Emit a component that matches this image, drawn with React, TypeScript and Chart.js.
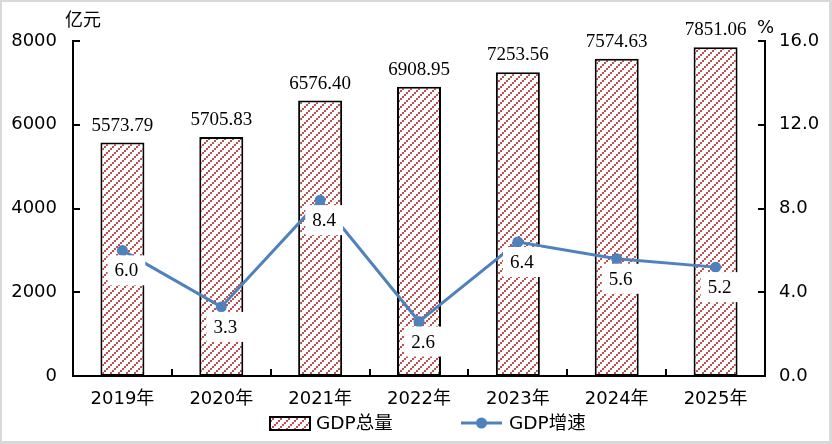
import React, { useEffect, useRef } from "react";
import { Chart, registerables } from "chart.js";

Chart.register(...registerables);

const years = ["2019年", "2020年", "2021年", "2022年", "2023年", "2024年", "2025年"];
const gdpTotal = [5573.79, 5705.83, 6576.4, 6908.95, 7253.56, 7574.63, 7851.06];
const gdpGrowth = [6.0, 3.3, 8.4, 2.6, 6.4, 5.6, 5.2];
const seriesNames = ["GDP总量", "GDP增速"];

const RED = "#C0504D";
const BLUE = "#4F81BD";
const SANS = "'DejaVu Sans', 'Noto Sans CJK SC', sans-serif";
const SERIF = "'Liberation Serif', 'Times New Roman', serif";

// upward diagonal hatch: 2px dots stepping (2,-2), stripes 8px apart
function makeHatch(): CanvasPattern | string {
	const tile = document.createElement("canvas");
	tile.width = 8;
	tile.height = 8;
	const c = tile.getContext("2d");
	if (!c) return RED;
	c.fillStyle = "#fff";
	c.fillRect(0, 0, 8, 8);
	c.fillStyle = RED;
	for (let k = 0; k < 4; k++) {
		c.fillRect(2 * k, 6 - 2 * k, 2, 2);
	}
	return c.createPattern(tile, "repeat") || RED;
}

const decorPlugin = {
	id: "decor",
	afterDatasetsDraw(chart: any) {
		const ctx: CanvasRenderingContext2D = chart.ctx;
		const { left, right, bottom } = chart.chartArea;
		const xs = chart.scales.x;
		const y = chart.scales.y;
		const y1 = chart.scales.y1;
		ctx.save();

		// inward tick marks
		ctx.strokeStyle = "#000";
		ctx.lineWidth = 2;
		ctx.beginPath();
		y.ticks.forEach((t: any) => {
			const py = Math.round(y.getPixelForValue(t.value));
			ctx.moveTo(left, py);
			ctx.lineTo(left + 7, py);
		});
		y1.ticks.forEach((t: any) => {
			const py = Math.round(y1.getPixelForValue(t.value));
			ctx.moveTo(right, py);
			ctx.lineTo(right - 7, py);
		});
		for (let i = 1; i < years.length; i++) {
			const px = Math.round((xs.getPixelForTick(i - 1) + xs.getPixelForTick(i)) / 2);
			ctx.moveTo(px, bottom);
			ctx.lineTo(px, bottom - 7);
		}
		ctx.stroke();

		// bar value labels
		ctx.fillStyle = "#000";
		ctx.font = "19px " + SERIF;
		ctx.textAlign = "center";
		ctx.textBaseline = "alphabetic";
		chart.getDatasetMeta(0).data.forEach((bar: any, i: number) => {
			ctx.fillText(gdpTotal[i].toFixed(2), bar.x, bar.y - 12);
		});

		// growth labels in white boxes
		ctx.textBaseline = "middle";
		chart.getDatasetMeta(1).data.forEach((pt: any, i: number) => {
			const text = gdpGrowth[i].toFixed(1);
			const w = ctx.measureText(text).width + 14;
			const h = 30;
			const cx = pt.x + 4;
			const cy = pt.y + 20;
			ctx.fillStyle = "#fff";
			ctx.fillRect(cx - w / 2, cy - h / 2, w, h);
			ctx.fillStyle = "#000";
			ctx.fillText(text, cx, cy + 1);
		});

		// axis units
		ctx.font = "18px " + SANS;
		ctx.textAlign = "left";
		ctx.fillText("亿元", 63, 19);
		ctx.fillText("%", 755, 26);

		ctx.restore();
	},
	afterDraw(chart: any) {
		const ctx: CanvasRenderingContext2D = chart.ctx;
		const hatch = chart.data.datasets[0].backgroundColor;
		ctx.save();
		const cy = 421;
		// bar legend item
		ctx.fillStyle = hatch;
		ctx.fillRect(268, cy - 6, 40, 13);
		ctx.strokeStyle = "#000";
		ctx.lineWidth = 2;
		ctx.strokeRect(268, cy - 6, 40, 13);
		ctx.fillStyle = "#000";
		ctx.font = "18.5px " + SANS;
		ctx.textAlign = "left";
		ctx.textBaseline = "middle";
		ctx.fillText(seriesNames[0], 314, cy + 1);
		// line legend item
		ctx.strokeStyle = BLUE;
		ctx.lineWidth = 3;
		ctx.beginPath();
		ctx.moveTo(459, cy);
		ctx.lineTo(500, cy);
		ctx.stroke();
		ctx.fillStyle = BLUE;
		ctx.beginPath();
		ctx.arc(479.5, cy, 5.5, 0, Math.PI * 2);
		ctx.fill();
		ctx.fillStyle = "#000";
		ctx.fillText(seriesNames[1], 507, cy + 1);
		ctx.restore();
	},
};

const App: React.FC = () => {
	const chartRef = useRef<HTMLCanvasElement>(null);

	useEffect(() => {
		if (!chartRef.current) return;
		const hatch = makeHatch();
		const axisFont = { family: SANS, size: 18 };

		const chart = new Chart(chartRef.current, {
			type: "bar",
			data: {
				labels: years,
				datasets: [
					{
						type: "bar",
						label: seriesNames[0],
						data: gdpTotal,
						backgroundColor: hatch as any,
						borderColor: "#000",
						borderWidth: 2,
						borderSkipped: false,
						barPercentage: 0.445,
						categoryPercentage: 1,
						yAxisID: "y",
						order: 1,
					},
					{
						type: "line",
						label: seriesNames[1],
						data: gdpGrowth,
						borderColor: BLUE,
						backgroundColor: BLUE,
						borderWidth: 3,
						pointRadius: 5.5,
						pointBorderWidth: 0,
						pointBackgroundColor: BLUE,
						tension: 0,
						yAxisID: "y1",
						order: 0,
					},
				],
			},
			options: {
				animation: false,
				responsive: true,
				maintainAspectRatio: false,
				layout: { padding: { top: 39, left: 0, right: 0, bottom: 0 } },
				plugins: {
					legend: { display: false },
					tooltip: { enabled: false },
				},
				scales: {
					x: {
						grid: { display: false, drawTicks: false },
						border: { display: true, color: "#000", width: 2 },
						ticks: { color: "#000", font: axisFont, padding: 13, maxRotation: 0 },
						afterFit: (s: any) => {
							s.height = 65;
						},
					},
					y: {
						position: "left",
						min: 0,
						max: 8000,
						grid: { display: false, drawTicks: false },
						border: { display: true, color: "#000", width: 2 },
						ticks: {
							stepSize: 2000,
							color: "#000",
							font: axisFont,
							padding: 16,
							callback: (v: any) => String(v),
						},
						afterFit: (s: any) => {
							s.width = 71;
						},
					},
					y1: {
						position: "right",
						min: 0,
						max: 16,
						grid: { display: false, drawTicks: false },
						border: { display: true, color: "#000", width: 2 },
						ticks: {
							stepSize: 4,
							color: "#000",
							font: axisFont,
							padding: 14,
							callback: (v: any) => Number(v).toFixed(1),
						},
						afterFit: (s: any) => {
							s.width = 64;
						},
					},
				},
			},
			plugins: [decorPlugin],
		});

		return () => {
			chart.destroy();
		};
	}, []);

	return (
		<div
			style={{
				position: "fixed",
				left: 0,
				top: 0,
				width: 832,
				height: 444,
				boxSizing: "border-box",
				borderTop: "2px solid #d9d9d9",
				borderLeft: "2px solid #d9d9d9",
				borderRight: "3px solid #d9d9d9",
				borderBottom: "3px solid #d9d9d9",
				background: "#fff",
			}}
		>
			<div style={{ position: "relative", width: 827, height: 439 }}>
				<canvas ref={chartRef} />
			</div>
		</div>
	);
};

export default App;
